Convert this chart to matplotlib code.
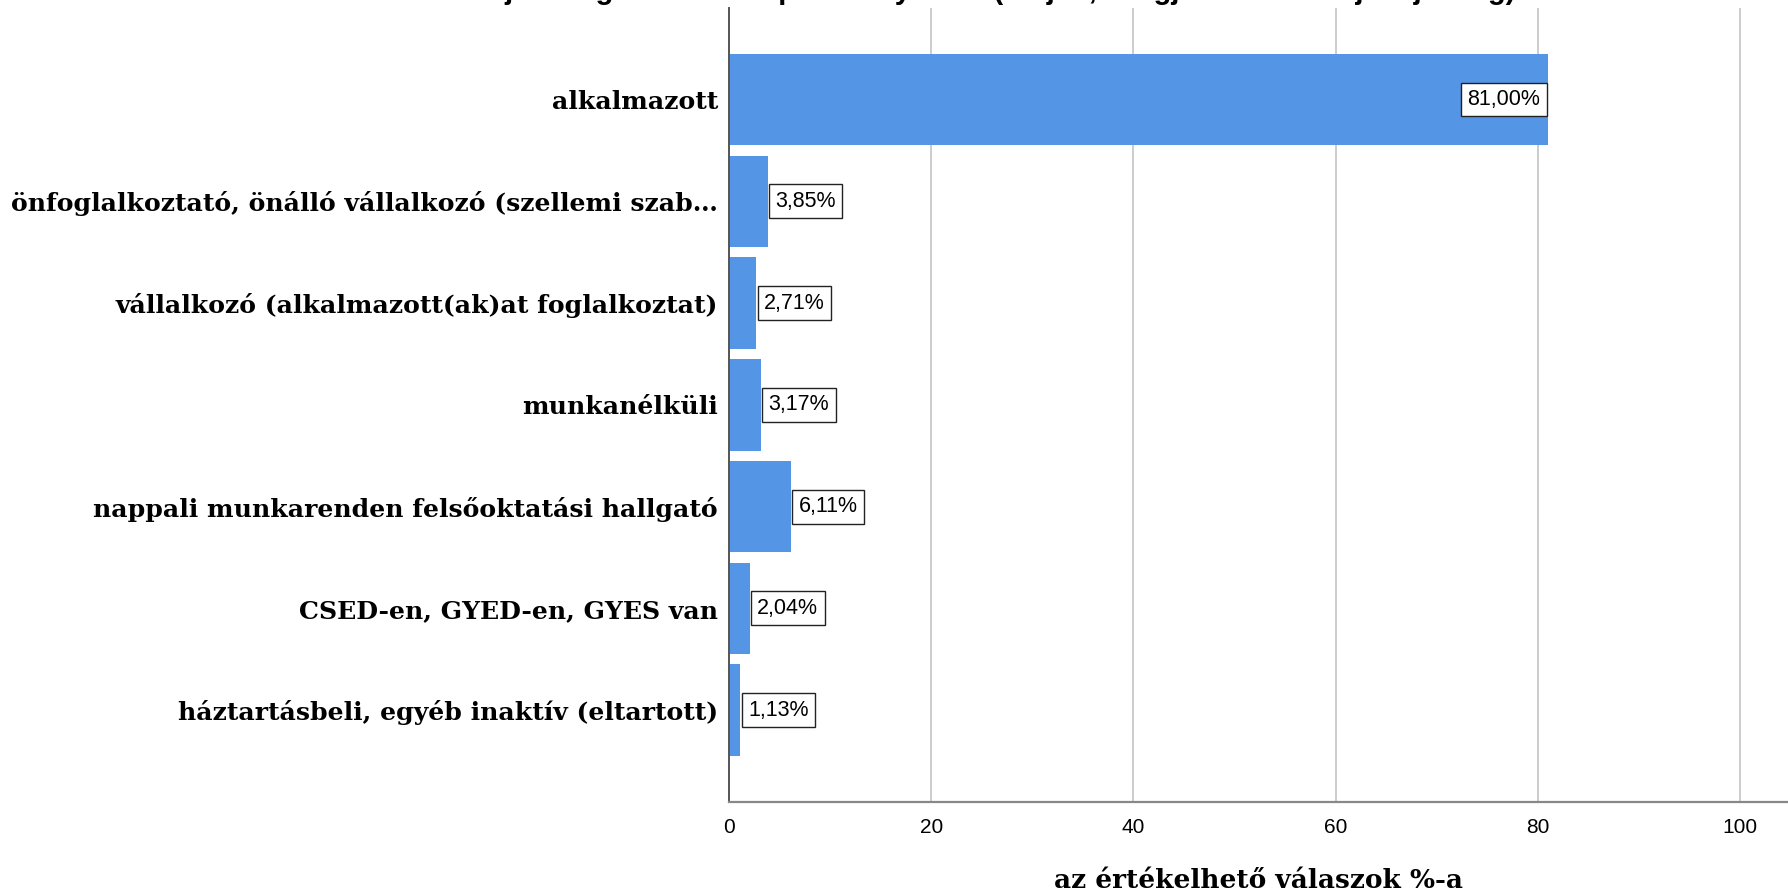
import numpy as np
import matplotlib.pyplot as plt

# kategóriák és százalékos értékek
kategoriak = [
    "alkalmazott",
    "önfoglalkoztató, önálló vállalkozó (szellemi szab…",
    "vállalkozó (alkalmazott(ak)at foglalkoztat)",
    "munkanélküli",
    "nappali munkarenden felsőoktatási hallgató",
    "CSED-en, GYED-en, GYES van",
    "háztartásbeli, egyéb inaktív (eltartott)",
]
szazalek = [81.00, 3.85, 2.71, 3.17, 6.11, 2.04, 1.13]
xtick_ertekek = [0, 20, 40, 60, 80, 100]

cim = "Mi az Ön jelenlegi munkaerő-piaci helyzete? (kérjük, a legjellemzőbbet jelölje meg)"
xcimke = "az értékelhető válaszok %-a"

kek = "#5595e5"

fig = plt.figure(figsize=(17.88, 8.93), dpi=100)
ax = fig.add_axes([0.4077, 0.1022, 0.5923, 0.8889])

y = np.arange(len(kategoriak))
ax.barh(y, szazalek, height=0.9, color=kek, zorder=2)

ax.set_ylim(len(kategoriak) - 0.1, -0.9)
ax.set_xlim(0, 104.75)

# rácsvonalak csak a tengelyjelöléseknél
ax.set_xticks(xtick_ertekek)
ax.set_xticklabels([str(v) for v in xtick_ertekek], fontsize=15, family="Liberation Sans")
ax.xaxis.grid(True, color="#cccccc", linewidth=1.4)
ax.set_axisbelow(True)
ax.tick_params(axis="x", length=0, pad=12)

ax.set_yticks(y)
ax.set_yticklabels(kategoriak, fontsize=18.1, family="DejaVu Serif", fontweight="bold")
ax.tick_params(axis="y", length=0, pad=8)

for s in ["top", "right"]:
    ax.spines[s].set_visible(False)
ax.spines["left"].set_color("#555555")
ax.spines["left"].set_linewidth(1.4)
ax.spines["bottom"].set_color("#888888")
ax.spines["bottom"].set_linewidth(1.6)

ax.set_xlabel(xcimke, fontsize=19, family="DejaVu Serif", fontweight="bold", labelpad=22)

# értékcímkék dobozban
dobozpad = 4.5
for yi, v in zip(y, szazalek):
    szoveg = f"{v:.2f}%".replace(".", ",")
    if v > 50:
        xy_off, ha = (-dobozpad - 1, 0), "right"
    else:
        xy_off, ha = (dobozpad + 1, 0), "left"
    ax.annotate(szoveg, xy=(v, yi), xytext=xy_off, textcoords="offset points",
                ha=ha, va="center", fontsize=15.5, family="Liberation Sans", zorder=4,
                bbox=dict(boxstyle="square,pad=0.3", facecolor="white",
                          edgecolor="#222222", linewidth=1.0))

# a cím felső része kilóg a képből, csak az alsó szárak látszanak
fig.text(0.529, 1 - 5 / 893, cim, ha="center", va="bottom", fontsize=21,
         family="Liberation Sans", fontweight="bold")

fig.savefig("out.png", dpi=100)
